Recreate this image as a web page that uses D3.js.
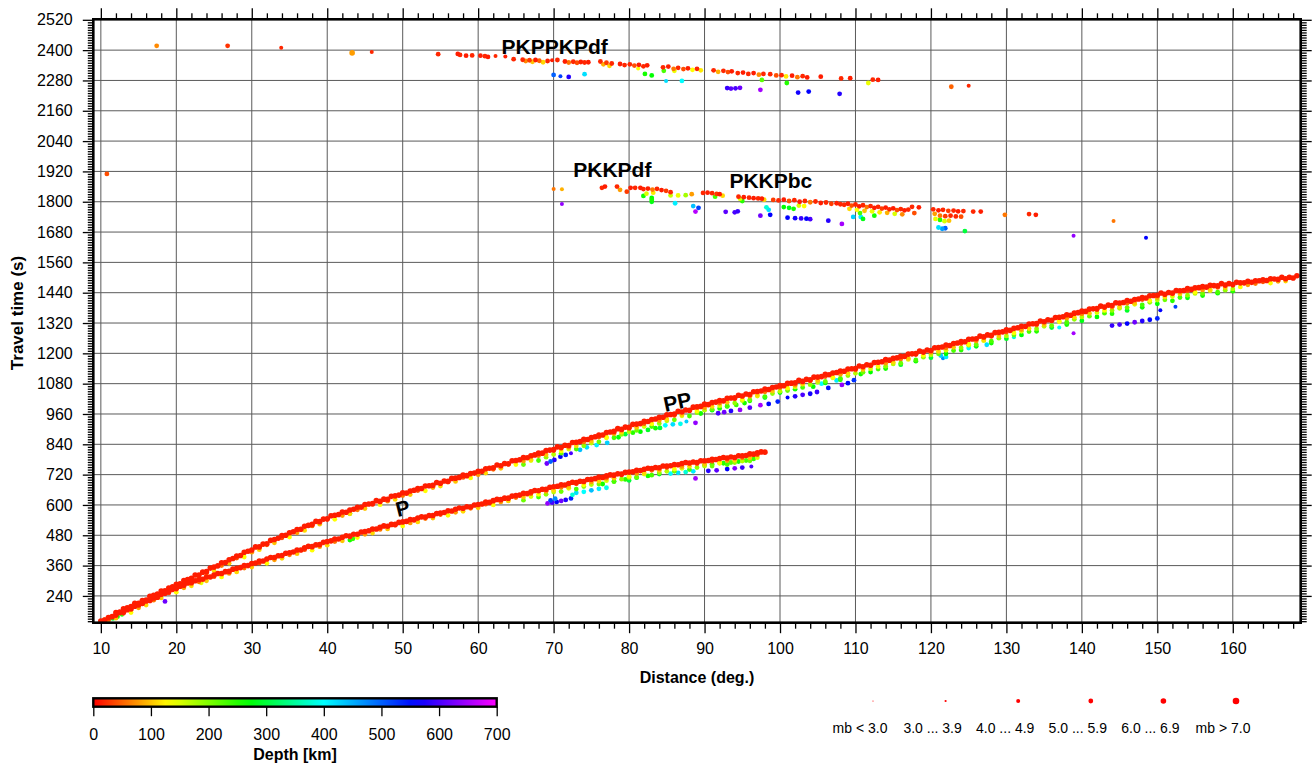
<!DOCTYPE html>
<html><head><meta charset="utf-8">
<script src="https://cdn.jsdelivr.net/npm/d3@7"></script>
<style>
body{margin:0;background:#fff}
svg text{font-family:"Liberation Sans",Arial,Helvetica,sans-serif;fill:#000}
</style>
</head><body>
<svg id="c" width="1314" height="764"></svg>
<script>
// ---------------- DATA ----------------
const xTicks = [10,20,30,40,50,60,70,80,90,100,110,120,130,140,150,160];
const yTicks = [240,360,480,600,720,840,960,1080,1200,1320,1440,1560,1680,1800,1920,2040,2160,2280,2400,2520];
const depthTicks = [0,100,200,300,400,500,600,700];
const magLabels = ["mb < 3.0","3.0 ... 3.9","4.0 ... 4.9","5.0 ... 5.9","6.0 ... 6.9","mb > 7.0"];
const magLegendValues = [2.5,3.5,4.5,5.5,6.5,7.5];
const phaseNames = ["PKPPKPdf","PKKPdf","PKKPbc","PP","P"];

// shallow (crustal, ~15 km) picks: [distance deg, travel time s]
const shallowDepth = 15, shallowMb = 6.2, midMb = 5.5, fringeMb = 5.2;
const pShallow = [[10,141],[10.5,144],[11,154],[11.5,158],[12,164],[12.5,174],[13,176],[13.5,185],[14,188],[14.5,199],[15,204],[15.5,210],[16,220],[16.5,222],[17,232],[17.5,235],[18,247],[18.5,251],[19,257],[19.5,266],[20,269],[20.5,278],[21,282],[21.5,291],[22,292],[22.5,300],[23,305],[23.5,306],[24,315],[24.5,315],[25,323],[25.5,329],[26,329],[26.5,336],[27,337],[27.5,346],[28,349],[28.5,352],[29,360],[29.5,360],[30,368],[30.5,370],[31,378],[31.5,378],[32,386],[32.5,392],[33,392],[33.5,399],[34,400],[34.5,409],[35,411],[35.5,414],[36,422],[36.5,422],[37,430],[37.5,436],[38,435],[38.5,442],[39,443],[39.5,452],[40,455],[40.5,458],[41,465],[41.5,465],[42,472],[42.5,478],[43,477],[43.5,484],[44,484],[44.5,493],[45,495],[45.5,498],[46,505],[46.5,505],[47,512],[47.5,517],[48,516],[48.5,523],[49,523],[49.5,531],[50,533],[50.5,535],[51,542],[51.5,541],[52,548],[52.5,553],[53,552],[53.5,558],[54,558],[54.5,566],[55,568],[55.5,570],[56,577],[56.5,576],[57,583],[57.5,588],[58,587],[58.5,593],[59,592],[59.5,600],[60,602],[60.5,604],[61,611],[61.5,610],[62,617],[62.5,622],[63,621],[63.5,627],[64,627],[64.5,635],[65,637],[65.5,639],[66,646],[66.5,645],[67,652],[67.5,657],[68,656],[68.5,662],[69,662],[69.5,670],[70,672],[70.5,674],[71,680],[71.5,679],[72,685],[72.5,690],[73,689],[73.5,694],[74,693],[74.5,701],[75,702],[75.5,704],[76,710],[76.5,709],[77,715],[77.5,719],[78,718],[78.5,723],[79,722],[79.5,729],[80,730],[80.5,731],[81,737],[81.5,736],[82,741],[82.5,745],[83,744],[83.5,748],[84,747],[84.5,754],[85,754],[85.5,755],[86,760],[86.5,759],[87,764],[87.5,768],[88,766],[88.5,770],[89,768],[89.5,775],[90,775],[90.5,776],[91,781],[91.5,780],[92,784],[92.5,788],[93,786],[93.5,790],[94,788],[94.5,795],[95,795],[95.5,796],[96,802],[96.5,801],[97,806],[97.5,810],[98,809]];

const ppShallow = [[12,174],[12.5,176],[13,189],[13.5,193],[14,198],[14.5,211],[15,211],[15.5,222],[16,224],[16.5,238],[17,242],[17.5,247],[18,259],[18.5,260],[19,271],[19.5,276],[20,286],[20.5,288],[21,301],[21.5,305],[22,310],[22.5,323],[23,323],[23.5,334],[24,336],[24.5,350],[25,354],[25.5,359],[26,371],[26.5,372],[27,383],[27.5,388],[28,398],[28.5,400],[29,413],[29.5,417],[30,422],[30.5,434],[31,434],[31.5,445],[32,446],[32.5,460],[33,463],[33.5,468],[34,479],[34.5,480],[35,490],[35.5,494],[36,503],[36.5,504],[37,516],[37.5,519],[38,523],[38.5,535],[39,534],[39.5,544],[40,545],[40.5,557],[41,559],[41.5,562],[42,572],[42.5,571],[43,580],[43.5,583],[44,591],[44.5,591],[45,602],[45.5,604],[46,606],[46.5,617],[47,614],[47.5,623],[48,622],[48.5,634],[49,636],[49.5,639],[50,648],[50.5,647],[51,655],[51.5,658],[52,665],[52.5,665],[53,675],[53.5,676],[54,678],[54.5,689],[55,686],[55.5,695],[56,694],[56.5,705],[57,706],[57.5,709],[58,718],[58.5,716],[59,724],[59.5,726],[60,733],[60.5,733],[61,743],[61.5,745],[62,747],[62.5,758],[63,755],[63.5,764],[64,763],[64.5,775],[65,776],[65.5,779],[66,788],[66.5,787],[67,795],[67.5,798],[68,805],[68.5,805],[69,815],[69.5,817],[70,819],[70.5,830],[71,827],[71.5,836],[72,835],[72.5,847],[73,848],[73.5,851],[74,860],[74.5,859],[75,867],[75.5,870],[76,877],[76.5,877],[77,887],[77.5,889],[78,891],[78.5,902],[79,899],[79.5,908],[80,907],[80.5,919],[81,920],[81.5,922],[82,931],[82.5,930],[83,938],[83.5,940],[84,947],[84.5,947],[85,957],[85.5,958],[86,960],[86.5,971],[87,968],[87.5,976],[88,975],[88.5,987],[89,988],[89.5,990],[90,999],[90.5,997],[91,1005],[91.5,1007],[92,1013],[92.5,1012],[93,1022],[93.5,1023],[94,1024],[94.5,1034],[95,1031],[95.5,1039],[96,1037],[96.5,1048],[97,1049],[97.5,1051],[98,1059],[98.5,1057],[99,1065],[99.5,1067],[100,1073],[100.5,1072],[101,1081],[101.5,1082],[102,1083],[102.5,1093],[103,1089],[103.5,1097],[104,1095],[104.5,1106],[105,1106],[105.5,1108],[106,1117],[106.5,1115],[107,1122],[107.5,1124],[108,1130],[108.5,1129],[109,1138],[109.5,1139],[110,1140],[110.5,1150],[111,1147],[111.5,1155],[112,1153],[112.5,1164],[113,1165],[113.5,1167],[114,1175],[114.5,1173],[115,1180],[115.5,1182],[116,1188],[116.5,1188],[117,1197],[117.5,1198],[118,1199],[118.5,1209],[119,1205],[119.5,1213],[120,1211],[120.5,1222],[121,1223],[121.5,1225],[122,1233],[122.5,1231],[123,1239],[123.5,1241],[124,1247],[124.5,1246],[125,1256],[125.5,1257],[126,1258],[126.5,1268],[127,1265],[127.5,1273],[128,1271],[128.5,1282],[129,1283],[129.5,1285],[130,1293],[130.5,1291],[131,1299],[131.5,1301],[132,1307],[132.5,1306],[133,1316],[133.5,1317],[134,1318],[134.5,1328],[135,1325],[135.5,1333],[136,1331],[136.5,1342],[137,1343],[137.5,1345],[138,1353],[138.5,1351],[139,1359],[139.5,1361],[140,1367],[140.5,1366],[141,1375],[141.5,1376],[142,1377],[142.5,1387],[143,1383],[143.5,1391],[144,1389],[144.5,1400],[145,1399],[145.5,1401],[146,1409],[146.5,1406],[147,1413],[147.5,1415],[148,1421],[148.5,1419],[149,1428],[149.5,1429],[150,1430],[150.5,1439],[151,1434],[151.5,1441],[152,1439],[152.5,1449],[153,1448],[153.5,1449],[154,1456],[154.5,1453],[155,1459],[155.5,1460],[156,1464],[156.5,1462],[157,1469],[157.5,1468],[158,1467],[158.5,1476],[159,1470],[159.5,1476],[160,1472],[160.5,1481],[161,1479],[161.5,1479],[162,1485],[162.5,1481],[163,1487],[163.5,1487],[164,1491],[164.5,1488],[165,1495],[165.5,1494],[166,1493],[166.5,1501],[167,1495],[167.5,1501],[168,1498],[168.5,1507]];

// intermediate-depth picks: [distance, time, depth km]
const pMid = [[11,143,60],[12,152,100],[13,171,40],[14,174,130],[15,193,80],[16,204,110],[17,223,60],[18,232,100],[19,252,40],[20,255,130],[21,272,80],[22,280,110],[23,296,60],[24,300,100],[25,316,40],[26,315,130],[27,329,80],[28,335,110],[29,350,60],[30,354,100],[31,370,40],[32,369,130],[33,383,80],[34,389,110],[35,403,60],[36,407,100],[37,423,40],[38,421,130],[39,435,80],[40,441,110],[41,455,60],[42,458,100],[43,473,40],[44,471,130],[45,484,80],[46,489,110],[47,503,60],[48,505,100],[49,520,40],[50,517,130],[51,529,80],[52,533,110],[53,546,60],[54,548,100],[55,562,40],[56,559,130],[57,571,80],[58,575,110],[59,587,60],[60,589,100],[61,603,40],[62,600,130],[63,612,80],[64,616,110],[65,629,60],[66,631,100],[67,645,40],[68,642,130],[69,654,80],[70,658,110],[71,670,60],[72,671,100],[73,684,40],[74,680,130],[75,691,80],[76,694,110],[77,706,60],[78,706,100],[79,719,40],[80,714,130],[81,724,80],[82,726,110],[83,737,60],[84,737,100],[85,748,40],[86,742,130],[87,752,80],[88,753,110],[89,763,60],[90,762,100],[91,773,40],[92,767,130],[93,776,80],[94,777,110],[95,787,60],[96,787,100],[97,799,40]];

const ppMid = [[20,276,60],[21,285,100],[22,306,40],[23,310,130],[24,329,80],[25,340,110],[26,360,60],[27,369,100],[28,390,40],[29,394,130],[30,413,80],[31,423,110],[32,442,60],[33,450,100],[34,470,40],[35,473,130],[36,490,80],[37,499,110],[38,517,60],[39,524,100],[40,543,40],[41,543,130],[42,558,80],[43,565,110],[44,581,60],[45,586,100],[46,602,40],[47,601,130],[48,615,80],[49,622,110],[50,637,60],[51,641,100],[52,657,40],[53,656,130],[54,669,80],[55,675,110],[56,690,60],[57,693,100],[58,709,40],[59,707,130],[60,720,80],[61,726,110],[62,741,60],[63,745,100],[64,761,40],[65,760,130],[66,774,80],[67,780,110],[68,795,60],[69,799,100],[70,815,40],[71,814,130],[72,828,80],[73,834,110],[74,849,60],[75,853,100],[76,869,40],[77,868,130],[78,882,80],[79,888,110],[80,903,60],[81,907,100],[82,922,40],[83,921,130],[84,934,80],[85,940,110],[86,954,60],[87,958,100],[88,973,40],[89,972,130],[90,985,80],[91,990,110],[92,1003,60],[93,1006,100],[94,1020,40],[95,1018,130],[96,1030,80],[97,1035,110],[98,1048,60],[99,1051,100],[100,1065,40],[101,1062,130],[102,1074,80],[103,1078,110],[104,1091,60],[105,1093,100],[106,1108,40],[107,1105,130],[108,1117,80],[109,1121,110],[110,1134,60],[111,1136,100],[112,1151,40],[113,1148,130],[114,1161,80],[115,1165,110],[116,1178,60],[117,1180,100],[118,1195,40],[119,1192,130],[120,1204,80],[121,1208,110],[122,1222,60],[123,1224,100],[124,1239,40],[125,1236,130],[126,1249,80],[127,1253,110],[128,1267,60],[129,1269,100],[130,1284,40],[131,1281,130],[132,1294,80],[133,1298,110],[134,1312,60],[135,1314,100],[136,1329,40],[137,1327,130],[138,1339,80],[139,1343,110],[140,1357,60],[141,1359,100],[142,1373,40],[143,1370,130],[144,1382,80],[145,1385,110],[146,1398,60],[147,1399,100],[148,1413,40],[149,1409,130],[150,1421,80],[151,1423,110],[152,1435,60],[153,1435,100],[154,1447,40],[155,1442,130],[156,1451,80],[157,1452,110],[158,1461,60],[159,1460,100],[160,1470,40],[161,1463,130],[162,1471,80],[163,1476,60],[164,1483,40],[165,1478,130],[166,1485,80],[167,1486,110]];

// 150-230 km events just under each branch: [distance, time, depth km]
const pFringe = [[66,619,210],[67,633,150],[68,631,230],[69,642,190],[70,651,170],[71,653,210],[72,666,150],[73,663,230],[74,673,190],[75,681,170],[76,683,210],[77,696,150],[78,692,230],[79,702,190],[80,709,170],[81,710,210],[82,722,150],[83,718,230],[84,727,190],[85,733,170],[86,733,210],[87,745,150],[88,740,230],[89,748,190],[90,754,170],[91,754,210],[92,765,150],[93,760,230],[94,768,190],[95,774,170],[96,775,210],[97,787,150]];

const ppFringe = [[66,760,210],[67,776,150],[68,776,230],[69,789,190],[70,800,170],[71,805,210],[72,821,150],[73,821,230],[74,834,190],[75,845,170],[76,850,210],[77,866,150],[78,866,230],[79,879,190],[80,890,170],[81,895,210],[82,910,150],[83,910,230],[84,922,190],[85,933,170],[86,937,210],[87,953,150],[88,952,230],[89,965,190],[90,975,170],[91,979,210],[92,993,150],[93,992,230],[94,1003,190],[95,1013,170],[96,1016,210],[97,1031,150],[98,1029,230],[99,1041,190],[100,1050,170],[101,1053,210],[102,1067,150],[103,1065,230],[104,1076,190],[105,1085,170],[106,1089,210],[107,1103,150],[108,1101,230],[109,1112,190],[110,1121,170],[111,1125,210],[112,1139,150],[113,1138,230],[114,1149,190],[115,1158,170],[116,1161,210],[117,1176,150],[118,1174,230],[119,1185,190],[120,1194,170],[121,1198,210],[122,1212,150],[123,1211,230],[124,1222,190],[125,1232,170],[126,1235,210],[127,1250,150],[128,1248,230],[129,1260,190],[130,1269,170],[131,1273,210],[132,1287,150],[133,1286,230],[134,1297,190],[135,1307,170],[136,1310,210],[137,1325,150],[138,1323,230],[139,1335,190],[140,1344,170],[141,1347,210],[142,1361,150],[143,1359,230],[144,1370,190],[145,1378,170],[146,1381,210],[147,1394,150],[148,1392,230],[149,1402,190],[150,1411,170],[151,1412,210],[152,1425,150],[153,1421,230],[154,1430,190],[155,1437,170],[156,1437,210],[157,1448,150],[158,1442,230],[159,1450,190],[160,1455,170]];

// deeper / individual picks: [distance, time, depth km, mb]
const pDeep = [[10,139,280,5],[10.5,146,60,5.5],[11,146,270,5],[11.6,151,300,5],[12.2,158,260,5],[12.8,165,250,4.5],[18.5,218,620,5.5],[23.3,292,140,5],[43.0,461,260,5.5],[43.4,466,240,5],
[69.2,606,640,5.5],[69.8,609,600,5.5],[70.4,612,560,5],[71,616,620,5],[71.6,620,580,5],[72.3,626,540,5],[70.2,625,470,5],[69.6,618,520,5],
[73,648,420,5],[74,652,400,5],[75,658,440,5],[76,664,410,5],[77,668,390,5],[72.5,640,380,5],
[78,694,270,5],[79.5,701,250,5],[81,708,280,5],[82.5,715,260,5],[84,722,290,5],[76.5,683,260,5],[80,697,300,5],
[85.5,724,400,5],[86.5,727,420,5],[87.5,730,380,5],[88.5,733,410,5],[88.8,705,650,5.5],
[90.5,735,580,5],[91.6,737,610,5],[93,742,560,5],[94,745,630,5],[95,748,590,5],[96.2,752,600,4.5],
[92.5,765,250,5],[93.5,768,220,5],[94.5,772,260,5],[95.5,776,230,5],[96.5,782,240,5],[90,758,280,5],[91,761,230,5]];

const ppDeep = [[43.0,566,260,5.5],
[69.1,764,620,5.5],[70.1,778,580,5.5],[70.9,791,560,5],[71.6,798,540,5],[72.3,805,600,4.5],[69.6,772,500,5],
[73.5,818,440,5],[74.4,828,420,5],[75.7,837,410,5],[77.1,846,430,5],
[78.6,868,280,5],[79.5,880,300,5],[81.5,890,270,5],[82.5,897,290,5],[83.5,904,260,5],[84.1,905,300,5],[80.5,886,250,5],
[84.8,915,400,5],[85.8,919,420,5],[86.8,921,390,5],[87.6,930,430,4.5],[88.8,925,640,5],
[89.5,962,260,5],[91,975,280,5],[92,982,250,5],[93,990,270,5],[94.2,996,240,5],[95.3,1003,260,5],
[91.8,963,600,5],[92.6,967,620,5],[93.5,972,580,5],[94.7,976,640,5.5],[96,985,610,5],[97.4,995,650,5],[98.5,1000,560,5],[99.7,1009,540,5.5],
[96,1012,260,5],[98,1025,300,5],[100,1045,280,5],[102,1058,260,5],[104.4,1068,270,5],[106,1083,280,5],[108,1095,250,5],[110.7,1118,260,5],
[101,1025,560,4.5],[102,1030,580,5],[103,1036,600,5],[104,1040,570,5],[104.9,1047,590,5],[106.4,1063,550,5.5],[108.2,1075,640,5],[109,1082,560,5],[109.8,1094,530,5],
[105.5,1080,400,5],[107.5,1093,410,5],
[112,1126,270,5],[114,1140,260,5],[116,1155,290,5],[118,1169,260,5],[120,1183,300,5],[122,1198,270,5],[124,1213,250,5],[126,1228,280,5],[128,1241,260,5],[130,1258,290,5],[132,1273,270,5],[134,1287,250,5],[136,1302,300,5],[138,1314,260,5],[140,1329,280,5],[142,1344,270,5],[144,1357,250,5],[146,1370,290,5],[148,1382,260,5],[150,1396,270,5],[152,1408,250,5],[154,1420,280,5],[156,1429,260,5],[158,1438,270,5],[160,1446,250,5],
[121.3,1191,430,5],[122,1186,410,5],[121.6,1181,470,4.5],[125,1221,400,5],[127.4,1234,420,5],[131,1264,380,4.5],[137,1302,400,4.5],[138.9,1280,650,4.5],
[144,1310,590,5],[145,1314,600,5],[146,1318,560,5],[147,1323,620,5],[148,1328,580,5],[149,1333,560,5],[150,1338,540,5],[150.4,1371,560,4.5],[152.4,1384,520,4.5]];

const pkppkp = [[54.7,2384,20,5.5],[57.3,2385,15,5.5],[57.6,2381,20,5],[58.4,2378,15,5],[59.2,2379,20,5],[60.3,2378,15,5],[60.9,2376,20,5],[61.3,2373,15,5],[62.3,2377,20,4.5],[63.6,2375,15,4.5],[64.7,2364,20,5],
[65.9,2362,20,5],[66.3,2357,70,5],[66.8,2360,30,5],[67.2,2354,100,5],[67.6,2361,15,5],[68.1,2358,50,5],[68.6,2352,110,5],[69.2,2357,20,5],[69.8,2360,15,4.5],[70.5,2361,20,5],
[71.5,2355,15,5],[72.0,2351,60,5],[72.6,2354,20,5],[73.1,2350,40,5],[73.6,2353,15,5],[74.1,2351,20,5],[74.6,2352,15,5],
[76.2,2355,20,5],[76.6,2344,90,5],[77.0,2350,30,5],[77.4,2338,110,5],[77.7,2347,20,5],
[78.8,2345,15,5],[79.4,2341,20,5],[80.1,2344,20,5],[80.7,2339,40,5],[81.3,2342,15,5],[81.9,2336,20,5],[82.4,2340,15,5],
[82.1,2306,260,5],[83.0,2300,270,5],[81.2,2327,130,4.5],
[84.5,2332,20,5],[85.2,2335,15,5],[85.9,2326,60,5],[86.5,2330,20,5],[87.2,2325,40,5],[87.8,2328,15,5],[88.4,2322,130,5],[89.0,2326,20,5],[89.5,2320,120,5],[84.6,2318,230,5],[86,2318,140,5],
[91.2,2320,20,5],[91.8,2314,90,5],[92.5,2318,20,5],[93.1,2313,40,5],[93.6,2316,15,5],
[94.4,2309,20,5],[95.1,2311,15,5],[95.8,2306,20,5],[96.5,2309,15,5],[97.2,2303,70,5],[97.8,2306,20,5],
[98.7,2305,20,5],[99.5,2300,40,5],[100.2,2301,20,5],[100.8,2296,120,5],[101.6,2299,15,5],[102.3,2293,60,5],[103.0,2297,20,5],[103.6,2292,15,5],[97.6,2282,220,5],[100.9,2270,250,5],
[105.4,2295,15,5],[108.1,2288,20,5],[109.3,2289,15,5],[111.7,2270,140,5],[112.3,2283,20,5],[113,2282,15,5],
[70,2302,500,5],[70.9,2297,520,4.5],[72,2294,580,5],[74.1,2305,420,5],[84.9,2278,420,4.5],[87,2278,400,5],[93,2250,590,5],[93.5,2248,610,5],[94.1,2249,600,5],[94.7,2251,620,5],[97.4,2243,650,5.5],[102.4,2232,570,5],[103.8,2236,560,5.5],[107.9,2227,580,5],
[122.7,2255,50,5],[125,2259,20,4.5]];

const pkkp = [[70.0,1850,60,4.5],[71.1,1849,90,4.5],[71.1,1791,640,4.5],
[76.4,1855,20,5],[76.8,1860,15,5],[78.4,1860,20,5],[78.8,1847,80,5],[79.7,1840,30,5],[80.2,1855,15,5],[80.8,1855,20,5],[81.5,1855,15,5],[81.9,1850,20,5],[82.5,1852,15,5],[83.1,1848,60,5],[83.7,1851,20,5],[84.3,1846,15,5],[84.9,1843,30,5],[85.5,1838,20,5],
[81.9,1823,260,5],[83.0,1815,270,5],[83.0,1808,260,5],[83.0,1800,280,5],[82.3,1832,150,5],[83.2,1836,120,5],
[86.1,1794,410,5],[85.5,1825,160,5],[86.5,1825,140,5],[87.5,1826,180,5],[88.3,1830,80,5],
[88.5,1783,440,5],[89.2,1776,520,5],[88.8,1761,660,5.5],
[89.8,1835,20,5],[90.4,1836,15,5],[91.0,1834,20,5],[91.6,1831,30,5],[92.0,1830,15,5],[91.4,1820,230,5],[92.4,1824,110,5],
[92.8,1760,610,5.5],[94.4,1762,590,5.5],[94.0,1758,600,5],
[94.5,1820,20,5],[95.2,1818,15,5],[95.9,1816,20,5],[96.5,1814,15,5],[97.1,1813,20,5],[97.6,1812,15,5],[95.0,1803,250,5],[94.7,1812,150,5],[97.9,1808,110,5],
[97.4,1745,620,5.5],[98.7,1748,560,5.5],[98.5,1768,420,5],[98.2,1778,380,5],
[99.1,1807,30,5],[99.8,1805,20,5],[100.5,1808,15,5],[101.2,1803,40,5],[101.9,1806,20,5],[102.6,1800,15,5],[103.3,1803,20,5],[104.0,1798,60,5],[104.7,1801,20,5],[105.4,1795,15,5],[106.1,1797,20,5],[106.8,1792,30,5],[107.5,1794,15,5],[108.0,1790,20,5],
[100.5,1779,270,5],[101.2,1776,280,5],[101.8,1772,260,5],[102.5,1785,150,5],[103.2,1783,130,5],
[101.0,1737,560,5],[102.0,1735,570,5],[102.8,1734,590,5],[103.5,1733,560,5],[104.0,1731,600,5],[106.4,1725,580,5],[108.2,1712,650,5.5],
[109.7,1740,430,5],[110.7,1740,410,5],[111.0,1732,280,5],
[108.5,1788,20,5],[109.0,1792,15,5],[109.5,1785,40,5],[110.0,1789,20,5],[110.5,1782,15,5],[111.0,1786,20,5],[111.5,1779,60,5],[112.0,1783,20,5],[112.5,1776,15,5],[113.0,1780,20,5],[113.5,1773,30,5],[114.0,1777,15,5],[114.5,1770,20,5],[115.0,1774,15,5],[115.5,1767,40,5],[116.0,1771,20,5],[116.5,1766,15,5],[117.0,1769,20,5],
[109.2,1772,110,5],[110.2,1768,130,5],[111.2,1764,100,5],[112.2,1762,140,5],[113.2,1758,120,5],[114.2,1756,90,5],[115.2,1752,150,5],[116.2,1750,70,5],[110.6,1755,230,5],[112.5,1745,260,5],
[117.5,1780,20,5],[118.4,1778,15,5],[117.8,1755,40,5],
[120.3,1770,20,5],[121.0,1766,15,5],[121.6,1768,20,5],[122.3,1764,30,5],[123.0,1765,20,5],[123.6,1762,15,5],[124.3,1763,20,5],
[120.5,1752,80,5],[121.2,1745,60,5],[121.9,1743,30,5],[122.6,1745,20,5],[123.3,1742,20,5],[124.0,1741,40,5],
[120.6,1732,140,5],[121.2,1728,250,5],[121.8,1723,150,5],[122.4,1725,100,5],
[121.0,1698,420,5],[121.5,1693,460,5],[121.9,1695,500,5],[124.5,1684,300,5],
[125.6,1761,20,5],[126.6,1761,15,5],[129.8,1748,60,5],[133.0,1751,20,5],[133.9,1748,15,5],
[144.2,1724,60,4.5],[138.9,1665,640,4.5],[148.5,1657,560,4.5]];

const isolated = [[10.8,1910,40,5],[17.4,2417,70,5.5],[26.8,2417,25,5.5],[33.9,2409,20,4],[43.3,2389,80,6.5],[45.9,2393,20,4.5]];

// ---------------- CHART ----------------
const svg = d3.select("#c");
const X0 = 93.3, X1 = 1300.7, Y0 = 19.3, Y1 = 622.7;
const x = d3.scaleLinear().domain([9,169]).range([X0,X1]);
const y = d3.scaleLinear().domain([134,2522]).range([Y1,Y0]);
const depthStops = [0,130,270,400,560,700];
const color = d3.scaleLinear().domain(depthStops)
  .range(["#ff0000","#ffff00","#00ff00","#00ffff","#0000ff","#ff00ff"]).clamp(true);
const radius = mb => mb < 3 ? 0.6 : mb < 4 ? 1.1 : mb < 5 ? 2.0 : mb < 6 ? 2.4 : mb < 7 ? 2.8 : 3.3;

const obs = (arr, z, mb) => arr.map(r => ({d:r[0], t:r[1], z: r[2] ?? z, mb: r[3] ?? mb}));
const all = [].concat(
  obs(pShallow, shallowDepth, shallowMb), obs(ppShallow, shallowDepth, shallowMb),
  obs(pMid, 0, midMb), obs(ppMid, 0, midMb),
  obs(pFringe, 0, fringeMb), obs(ppFringe, 0, fringeMb),
  obs(pDeep), obs(ppDeep), obs(pkppkp), obs(pkkp), obs(isolated)
).sort((a,b) => b.z - a.z);

const defs = svg.append("defs");
defs.append("clipPath").attr("id","plotclip").append("rect")
  .attr("x",X0).attr("y",Y0).attr("width",X1-X0).attr("height",Y1-Y0);

// grid
const grid = svg.append("g").attr("stroke","#5a5a5a").attr("stroke-width",1);
grid.selectAll("line.gv").data(xTicks).join("line").attr("class","gv")
  .attr("x1",d=>x(d)).attr("x2",d=>x(d)).attr("y1",Y0).attr("y2",Y1);
grid.selectAll("line.gh").data(yTicks.filter(t=>t<2520)).join("line").attr("class","gh")
  .attr("y1",d=>y(d)).attr("y2",d=>y(d)).attr("x1",X0).attr("x2",X1);

// points
svg.append("g").attr("clip-path","url(#plotclip)")
  .selectAll("circle").data(all).join("circle")
  .attr("cx",d=>x(d.d)).attr("cy",d=>y(d.t)).attr("r",d=>radius(d.mb))
  .attr("fill",d=>color(d.z));

// phase labels
const labelPos = {
  "PKPPKPdf": {d:63.1, t:2384, rot:0, anchor:"start"},
  "PKKPdf":   {d:72.6, t:1899, rot:0, anchor:"start"},
  "PKKPbc":   {d:93.3, t:1853, rot:0, anchor:"start"},
  "PP":       {d:86.4, t:1008, rot:-12, anchor:"middle"},
  "P":        {d:50.0, t:587,  rot:-14, anchor:"middle"}
};
svg.append("g").selectAll("text").data(phaseNames).join("text")
  .attr("transform", n => {
    const p = labelPos[n];
    return `translate(${x(p.d)},${y(p.t)}) rotate(${p.rot})`;
  })
  .attr("text-anchor", n => labelPos[n].anchor)
  .attr("dy", n => labelPos[n].rot ? "0.35em" : 0)
  .attr("font-size",21).attr("font-weight","bold")
  .text(n => n);

// axes
const FONT = '"Liberation Sans",Arial,Helvetica,sans-serif';
function axis(gen, tx, ty, vals, size, labels, pad) {
  const a = gen.tickValues(vals).tickSize(size).tickSizeOuter(0).tickPadding(pad||3)
    .tickFormat(labels ? d3.format("d") : "");
  const g = svg.append("g").attr("transform",`translate(${tx},${ty})`).call(a);
  g.attr("font-size",16).attr("font-family",FONT);
  g.select(".domain").remove();
  g.selectAll(".tick line").attr("stroke","#000").attr("stroke-width",1.3);
  g.selectAll(".tick text").attr("fill","#000");
  return g;
}
const xMinor = d3.range(10, 169, 2).filter(v => !xTicks.includes(v));
const yMinor = d3.range(140, 2521, 10).filter(v => !yTicks.includes(v));
axis(d3.axisBottom(x), 0, Y1, xTicks, 10.5, true, 9.4);
axis(d3.axisBottom(x), 0, Y1, xMinor, 6, false);
axis(d3.axisTop(x), 0, Y0, xTicks, 11, false);
axis(d3.axisTop(x), 0, Y0, xMinor, 6, false);
axis(d3.axisLeft(y), X0, 0, yTicks, 10.5, true, 10.1);
axis(d3.axisLeft(y), X0, 0, yMinor, 5.5, false);
axis(d3.axisRight(y), X1, 0, yTicks, 11, false);
axis(d3.axisRight(y), X1, 0, yMinor, 6, false);

// frame
svg.append("rect").attr("x",X0).attr("y",Y0).attr("width",X1-X0).attr("height",Y1-Y0)
  .attr("fill","none").attr("stroke","#000").attr("stroke-width",2.6);

// axis titles
svg.append("text").attr("x",(X0+X1)/2).attr("y",683).attr("text-anchor","middle")
  .attr("font-size",16).attr("font-weight","bold").text("Distance (deg.)");
svg.append("text").attr("transform",`translate(23,313) rotate(-90)`).attr("text-anchor","middle")
  .attr("font-size",17).attr("font-weight","bold").text("Travel time (s)");

// colour bar
const CB0 = 93.3, CB1 = 496.7, CBY = 698.3, CBH = 8.4;
const cbx = d3.scaleLinear().domain([0,700]).range([CB0,CB1]);
const grad = defs.append("linearGradient").attr("id","cbgrad").attr("x1","0%").attr("x2","100%");
grad.selectAll("stop").data(d3.range(0,701,25)).join("stop")
  .attr("offset",d=>(d/700*100)+"%").attr("stop-color",d=>color(d));
svg.append("rect").attr("x",CB0).attr("y",CBY).attr("width",CB1-CB0).attr("height",CBH)
  .attr("fill","url(#cbgrad)").attr("stroke","#000").attr("stroke-width",2.4);
const cbAxis = svg.append("g").attr("transform",`translate(0,${CBY+CBH})`)
  .call(d3.axisBottom(cbx).tickValues(depthTicks).tickSize(9.5).tickSizeOuter(0).tickPadding(12.4).tickFormat(d3.format("d")));
cbAxis.attr("font-size",16).attr("font-family",FONT);
cbAxis.select(".domain").remove();
cbAxis.selectAll(".tick line").attr("stroke","#000").attr("stroke-width",1.3);
cbAxis.selectAll(".tick text").attr("fill","#000");
svg.append("text").attr("x",295).attr("y",760).attr("text-anchor","middle")
  .attr("font-size",16).attr("font-weight","bold").text("Depth [km]");

// magnitude legend
const magX = d3.scalePoint().domain(magLabels).range([873,1236]);
const mg = svg.append("g");
mg.selectAll("circle").data(magLabels).join("circle")
  .attr("cx",d=>magX(d)).attr("cy",701).attr("r",(d,i)=>radius(magLegendValues[i])).attr("fill",color(0));
mg.selectAll("text").data(magLabels).join("text")
  .attr("x",d=>magX(d)-13).attr("y",733).attr("text-anchor","middle").attr("font-size",14).text(d=>d);
</script>
</body></html>
